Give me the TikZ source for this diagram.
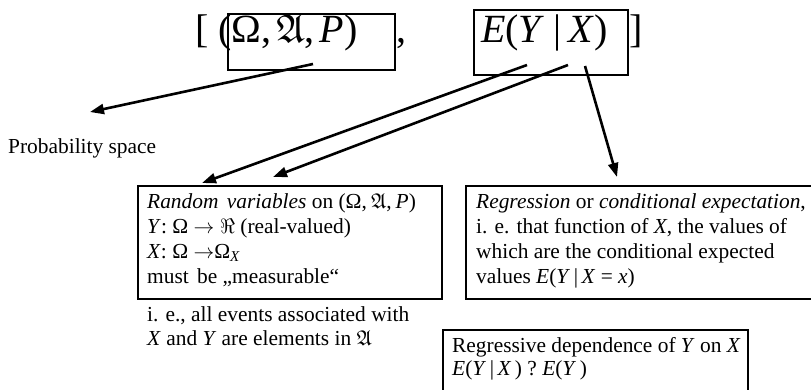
\documentclass[tikz,border=0pt]{standalone}
\usepackage{amssymb}
\usepackage{fontspec}
\setmainfont{Liberation Serif}
\usetikzlibrary{arrows.meta}
\newcommand\myBody{\fontsize{21.4}{25}\selectfont}
\newcommand\myTitle{\fontsize{40}{42}\selectfont}
\newcommand\subX{\raisebox{-0.35ex}{\fontsize{15}{15}\selectfont\textit{X}}}
\tikzset{
  box/.style={draw, line width=1.8pt, inner sep=0pt, anchor=north west},
  txt/.style={anchor=base west, inner sep=0pt, font=\myBody},
  ttl/.style={anchor=base west, inner sep=0pt, font=\myTitle},
  arr/.style={line width=2.6pt, -{Triangle[length=14pt,width=10pt]}}
}
\begin{document}
\begin{tikzpicture}[x=1pt,y=-1pt]
\useasboundingbox (0,0) rectangle (811,389);
\clip (0,0) rectangle (811,389);
% title
\node[ttl] (lb) at (195,42) {[};
\node[ttl] (omtxt) at (218,42) {(Ω,\hspace{5pt}$\mathfrak{A}$,\hspace{5pt}\textit{P})};
\node[box, minimum width=167pt, minimum height=56pt] (obox) at (227,13) {};
\node[ttl] (comma) at (396,42) {,};
\node[box, minimum width=154pt, minimum height=65pt] (ebox) at (473,9) {};
\node[ttl] (etxt) at (481,42) {\textit{E}(\textit{Y}\hspace{9pt}|\hspace{7pt}\textit{X})};
\node[ttl] (rb) at (629,42) {]};
% probability space
\node[txt] (prob) at (8,153) {Probability space};
% random variables box
\node[box, minimum width=304pt, minimum height=113pt] (rvbox) at (137,185) {};
\node[txt] (rv1) at (147,208) {\textit{Random\hspace{3pt} variables} on (Ω,\hspace{4pt}$\mathfrak{A}$,\hspace{4pt}\textit{P})};
\node[txt] (rv2) at (147,233) {\textit{Y}: Ω $\rightarrow \Re$ (real-valued)};
\node[txt] (rv3) at (147,258) {\textit{X}: Ω $\rightarrow$Ω\subX};
\node[txt] (rv4) at (147,283) {must\hspace{3pt} be „measurable“};
\node[txt] (ie1) at (147,321) {i. e., all events associated with};
\node[txt] (ie2) at (147,345) {\textit{X} and \textit{Y} are elements in $\mathfrak{A}$};
% regression box
\node[box, minimum width=360pt, minimum height=113pt] (regbox) at (465,185) {};
\node[txt] (rg1) at (476,208) {\textit{Regression} or \textit{conditional expectation},};
\node[txt] (rg2) at (476,233) {i. e. that function of \textit{X}, the values of};
\node[txt] (rg3) at (476,258) {which are the conditional expected};
\node[txt] (rg4) at (476,283) {values \textit{E}(\textit{Y}\,|\,\textit{X} = \textit{x})};
% bottom box
\node[box, minimum width=305pt, minimum height=90pt] (depbox) at (442,329) {};
\node[txt] (dp1) at (452,352) {Regressive dependence of \textit{Y} on \textit{X}};
\node[txt] (dp2) at (452,375) {\textit{E}(\textit{Y}\,|\,\textit{X}\,) ? \textit{E}(\textit{Y}\,)};
% connector ends
\coordinate (s1) at (313,64);
\coordinate (t1) at (90,112);
\coordinate (s2) at (527,65);
\coordinate (t2) at (202,183);
\coordinate (s3) at (568,65);
\coordinate (t3) at (273,177);
\coordinate (s4) at (585,66);
\coordinate (t4) at (617,177);
\draw[arr] (s1) -- (t1);
\draw[arr] (s2) -- (t2);
\draw[arr] (s3) -- (t3);
\draw[arr] (s4) -- (t4);
\end{tikzpicture}
\end{document}
